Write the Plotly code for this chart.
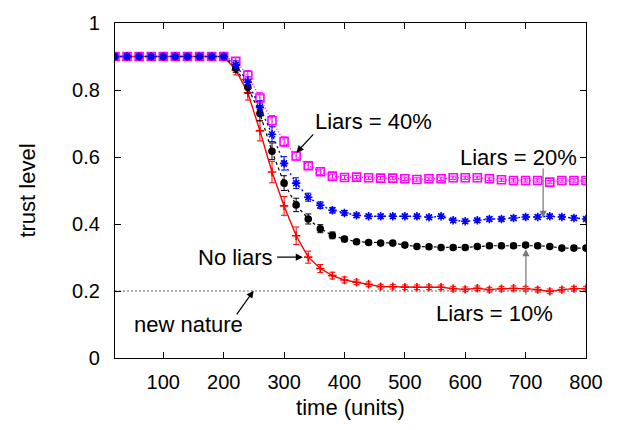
import plotly.graph_objects as go

# Simulation time steps (units)
time = list(range(20, 801, 20))

# Mean trust level per scenario
no_liars = [0.9] * 10 + [0.860, 0.792, 0.678, 0.555, 0.454, 0.365, 0.301, 0.267, 0.246, 0.233,
                         0.226, 0.220, 0.213, 0.213, 0.211, 0.211, 0.211, 0.211, 0.207, 0.205,
                         0.208, 0.204, 0.207, 0.208, 0.207, 0.204, 0.199, 0.204, 0.207, 0.207]
liars_10 = [0.9] * 10 + [0.865, 0.808, 0.730, 0.617, 0.522, 0.457, 0.415, 0.386, 0.366, 0.355,
                         0.347, 0.345, 0.343, 0.343, 0.337, 0.333, 0.332, 0.330, 0.330, 0.330,
                         0.333, 0.335, 0.335, 0.335, 0.337, 0.335, 0.333, 0.328, 0.328, 0.328]
liars_20 = [0.9] * 10 + [0.875, 0.823, 0.748, 0.668, 0.581, 0.522, 0.480, 0.456, 0.441, 0.433,
                         0.426, 0.423, 0.423, 0.423, 0.423, 0.423, 0.420, 0.423, 0.411, 0.408,
                         0.411, 0.415, 0.415, 0.418, 0.421, 0.421, 0.423, 0.421, 0.418, 0.415]
liars_40 = [0.9] * 10 + [0.886, 0.844, 0.776, 0.708, 0.646, 0.603, 0.574, 0.556, 0.543, 0.539,
                         0.540, 0.538, 0.537, 0.537, 0.535, 0.533, 0.535, 0.535, 0.538, 0.538,
                         0.538, 0.535, 0.532, 0.530, 0.530, 0.530, 0.525, 0.530, 0.530, 0.530]

# Half-widths of the error bars
err_no_liars = [0.003] * 10 + [0.015, 0.022, 0.030, 0.032, 0.028, 0.026, 0.018, 0.012, 0.010, 0.009] + [0.007] * 20
err_liars_10 = [0.003] * 10 + [0.012, 0.018, 0.022, 0.025, 0.022, 0.020, 0.015, 0.012, 0.010, 0.008] + [0.006] * 20
err_liars_20 = [0.003] * 10 + [0.012, 0.016, 0.020, 0.022, 0.020, 0.016, 0.012, 0.010, 0.008, 0.007] + [0.006] * 20
err_liars_40 = [0.003] * 10 + [0.010, 0.014, 0.016, 0.016, 0.014, 0.012, 0.010, 0.008, 0.006, 0.006] + [0.005] * 20

new_nature = 0.2

FONT = "Liberation Sans, Arial, Helvetica, sans-serif"

fig = go.Figure()

# Reference line for the new nature
fig.add_trace(go.Scatter(
    x=[time[0], time[-1]], y=[new_nature, new_nature], mode="lines",
    line=dict(color="#666666", width=1, dash="2px,2px"), hoverinfo="skip", showlegend=False))

series = [
    (no_liars, err_no_liars, "red", "solid", 1.4, "cross-thin", 6),
    (liars_10, err_liars_10, "black", "3px,3px", 1.2, "circle", 6),
    (liars_40, err_liars_40, "#ff00ff", "1px,2px", 1.4, "square-open", 8),
    (liars_20, err_liars_20, "#0000ff", "2px,3px", 1.4, "asterisk-open", 7),
]
for vals, errs, color, dash, lw, sym, size in series:
    fig.add_trace(go.Scatter(
        x=time, y=vals, mode="lines+markers",
        line=dict(color=color, width=lw, dash=dash),
        marker=dict(symbol=sym, size=size, color=color, line=dict(color=color, width=1.6)),
        error_y=dict(type="data", array=errs, visible=True, color=color, thickness=1, width=3),
        showlegend=False))

ann_font = dict(family=FONT, size=22, color="black")

# Text labels
fig.add_annotation(x=448, y=0.705, text="Liars = 40%", showarrow=False, font=ann_font)
fig.add_annotation(x=689, y=0.599, text="Liars = 20%", showarrow=False, font=ann_font)
fig.add_annotation(x=649, y=0.133, text="Liars = 10%", showarrow=False, font=ann_font)
fig.add_annotation(x=285, y=0.301, text="No liars", showarrow=False, font=ann_font, xanchor="right")
fig.add_annotation(x=142, y=0.099, text="new nature", showarrow=False, font=ann_font)

# Arrows (tip, tail, colour)
arrows = [
    ((320.4, 0.613), (350.7, 0.672), "black"),
    ((729, 0.418), (729, 0.570), "#777777"),
    ((700.5, 0.325), (700.5, 0.184), "#777777"),
    ((331.3, 0.301), (286, 0.301), "black"),
    ((249.6, 0.201), (219.8, 0.126), "black"),
]
for (tx, ty), (sx, sy), col in arrows:
    fig.add_annotation(x=tx, y=ty, ax=sx, ay=sy, xref="x", yref="y", axref="x", ayref="y",
                       text="", showarrow=True, arrowhead=2, arrowsize=1.2, arrowwidth=1.2,
                       arrowcolor=col)

fig.update_layout(
    width=624, height=430,
    margin=dict(l=115, r=38, t=16, b=72),
    paper_bgcolor="white", plot_bgcolor="white",
    font=dict(family=FONT, size=20, color="black"),
    xaxis=dict(range=[20, 800], tickvals=[100, 200, 300, 400, 500, 600, 700, 800],
               ticks="inside", ticklen=6, tickcolor="black", showline=True, linecolor="black",
               linewidth=1.2, mirror="ticks", showgrid=False, zeroline=False,
               ticklabelstandoff=6,
               title=dict(text="time (units)", standoff=7, font=dict(family=FONT, size=22))),
    yaxis=dict(range=[0, 1], tickvals=[0, 0.2, 0.4, 0.6, 0.8, 1],
               ticktext=["0", "0.2", "0.4", "0.6", "0.8", "1"],
               ticks="inside", ticklen=6, tickcolor="black", showline=True, linecolor="black",
               linewidth=1.2, mirror="ticks", showgrid=False, zeroline=False,
               ticklabelstandoff=10,
               title=dict(text="trust level", standoff=30, font=dict(family=FONT, size=22))),
)

fig.write_html("out.html")
